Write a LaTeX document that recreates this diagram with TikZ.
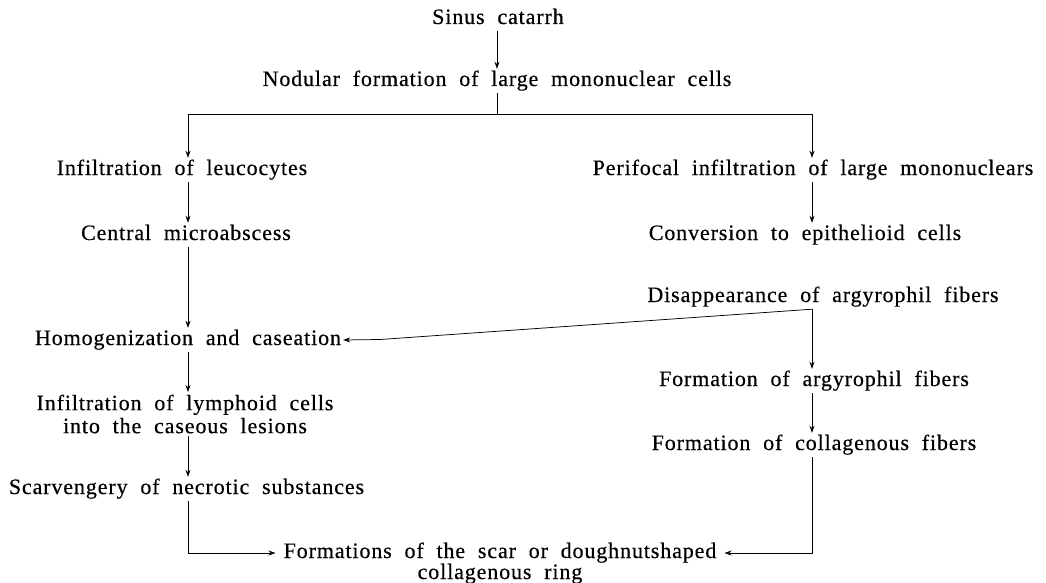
\documentclass[tikz,border=0pt]{standalone}
\usepackage{fontspec}
\setmainfont{Liberation Serif}[LetterSpace=4,WordSpace=2.0,FakeBold=0.4]
\usetikzlibrary{arrows.meta}
\begin{document}
\begin{tikzpicture}[x=1pt,y=-1pt,
  every node/.style={font=\fontsize{22}{23}\selectfont},
  lbl/.style={inner xsep=2pt, inner ysep=2.5pt, text height=14.5pt, text depth=4.5pt, anchor=base},
  arr/.style={-{Stealth[length=7pt,width=5pt,inset=2.2pt]}, line width=0.75pt},
  ln/.style={line width=0.75pt}]
\useasboundingbox (0,0) rectangle (1046,583);
% guide coordinates for the two columns
\coordinate (L) at (188,0);
\coordinate (R) at (812,0);
% top
\node[lbl] (sinus) at (498,24) {Sinus catarrh};
\node[lbl] (nod) at (497,86) {Nodular formation of large mononuclear cells};
\coordinate (split) at (497,114);
% left column
\node[lbl] (leu) at (182,175) {Infiltration of leucocytes};
\node[lbl] (cen) at (186,240) {Central microabscess};
\node[lbl] (hom) at (188,345) {Homogenization and caseation};
\node[align=center, inner xsep=2pt, inner ysep=2.5pt, anchor=north] (lym) at (185,392) {Infiltration of lymphoid cells\\into the caseous lesions};
\node[lbl] (sca) at (186.5,494) {Scarvengery of necrotic substances};
% right column
\node[lbl] (per) at (813,175) {Perifocal infiltration of large mononuclears};
\node[lbl] (con) at (805,240) {Conversion to epithelioid cells};
\node[lbl] (dis) at (823,302) {Disappearance of argyrophil fibers};
\node[lbl] (farg) at (814,386) {Formation of argyrophil fibers};
\node[lbl] (fcol) at (814,450) {Formation of collagenous fibers};
% bottom
\node[lbl, inner xsep=8pt] (scar) at (500,558) {Formations of the scar or doughnutshaped};
\node[lbl] (ring) at (500,579) {collagenous ring};
\coordinate (bend) at (380,339.5);
% connectors
\draw[arr] (sinus.south -| split) -- (nod.north -| split);
\draw[ln] (nod.south -| split) -- (split);
\draw[ln] (split -| L) -- (split -| R);
\draw[arr] (split -| L) -- (leu.north -| L);
\draw[arr] (split -| R) -- (per.north -| R);
\draw[arr] (leu.south -| L) -- (cen.north -| L);
\draw[arr] (cen.south -| L) -- (hom.north -| L);
\draw[arr] (hom.south -| L) -- (lym.north -| L);
\draw[arr] (lym.south -| L) -- (sca.north -| L);
\draw[arr] (sca.south -| L) |- (scar.west);
\draw[arr] (per.south -| R) -- (con.north -| R);
\draw[arr] (dis.south -| R) -- (farg.north -| R);
\draw[arr] (dis.south -| R) -- (bend) -- (hom.east);
\draw[arr] (farg.south -| R) -- (fcol.north -| R);
\draw[arr] (fcol.south -| R) |- (scar.east);
\end{tikzpicture}
\end{document}
